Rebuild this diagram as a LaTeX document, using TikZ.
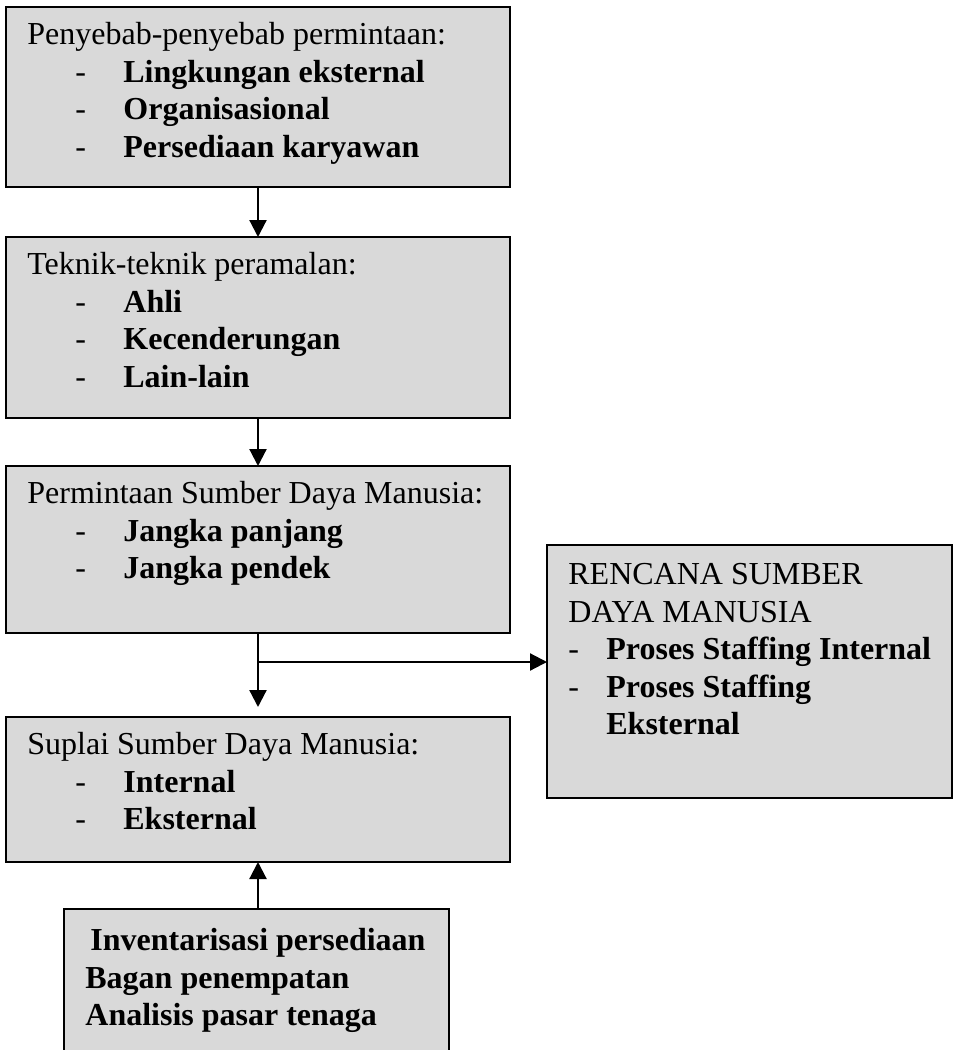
\documentclass[tikz,border=0pt]{standalone}
\usepackage{fontspec}
\setmainfont{Liberation Serif}
\usetikzlibrary{arrows.meta,positioning}
\definecolor{abu}{HTML}{D9D9D9}
\newcommand{\butir}[1]{\hspace*{24pt}\makebox[24pt][l]{-}\textbf{#1}}

\begin{document}
\begin{tikzpicture}[x=0.5pt,y=-0.5pt,
    every node/.style={font=\fontsize{16pt}{18.75pt}\selectfont},
    kotak/.style={draw, line width=1pt, fill=abu, anchor=north west, inner sep=0pt, outer sep=0pt},
    isi/.style={anchor=north west, align=left, inner sep=0pt},
    panah/.style={-{Triangle[length=8.5pt,width=8.5pt]}, line width=1.1pt}
]
\clip (0,0) rectangle (954,1050);
\fill[white] (0,0) rectangle (954,1050);
\node[kotak, minimum width=252pt, minimum height=90pt] (penyebab) at (6,7) {};
\node[kotak, minimum width=252pt, minimum height=90.5pt] (teknik) at (6,237) {};
\node[kotak, minimum width=252pt, minimum height=83.5pt] (permintaan) at (6,466) {};
\node[kotak, minimum width=252pt, minimum height=72.5pt] (suplai) at (6,717) {};
\node[kotak, minimum width=202.5pt, minimum height=126.5pt] (rencana) at (547,545) {};
\node[kotak, minimum width=192.5pt, minimum height=80pt] (inventaris) at (64,909) {};
\node[isi] (penyebab-isi) at ([shift={(21,15)}]penyebab.north west)
  {Penyebab-penyebab permintaan:\\ \butir{Lingkungan eksternal}\\ \butir{Organisasional}\\ \butir{Persediaan karyawan}};
\node[isi] (teknik-isi) at ([shift={(21,15)}]teknik.north west)
  {Teknik-teknik peramalan:\\ \butir{Ahli}\\ \butir{Kecenderungan}\\ \butir{Lain-lain}};
\node[isi] (permintaan-isi) at ([shift={(21,15)}]permintaan.north west)
  {Permintaan Sumber Daya Manusia:\\ \butir{Jangka panjang}\\ \butir{Jangka pendek}};
\node[isi] (suplai-isi) at ([shift={(21,15)}]suplai.north west)
  {Suplai Sumber Daya Manusia:\\ \butir{Internal}\\ \butir{Eksternal}};
\node[isi] (rencana-isi) at ([shift={(21,18)}]rencana.north west)
  {RENCANA SUMBER\\ DAYA MANUSIA\\ \makebox[19pt][l]{-}\textbf{Proses Staffing Internal}\\
   \makebox[19pt][l]{-}\textbf{Proses Staffing}\\ \hspace*{19pt}\textbf{Eksternal}};
\node[isi, font=\fontsize{16pt}{18.75pt}\selectfont\bfseries] (inventaris-isi) at ([shift={(21,19)}]inventaris.north west)
  {\hspace*{2.5pt}Inventarisasi persediaan\\ Bagan penempatan\\ Analisis pasar tenaga};
\coordinate (cabang) at (258,662);
\draw[panah] (penyebab.south) -- (teknik.north);
\draw[panah] (teknik.south) -- (permintaan.north);
\draw[panah, shorten >=5pt] (permintaan.south) -- (suplai.north);
\draw[panah] (cabang) -- (rencana.west |- cabang);
\draw[panah] (inventaris.north -| suplai.south) -- (suplai.south);
\end{tikzpicture}
\end{document}
